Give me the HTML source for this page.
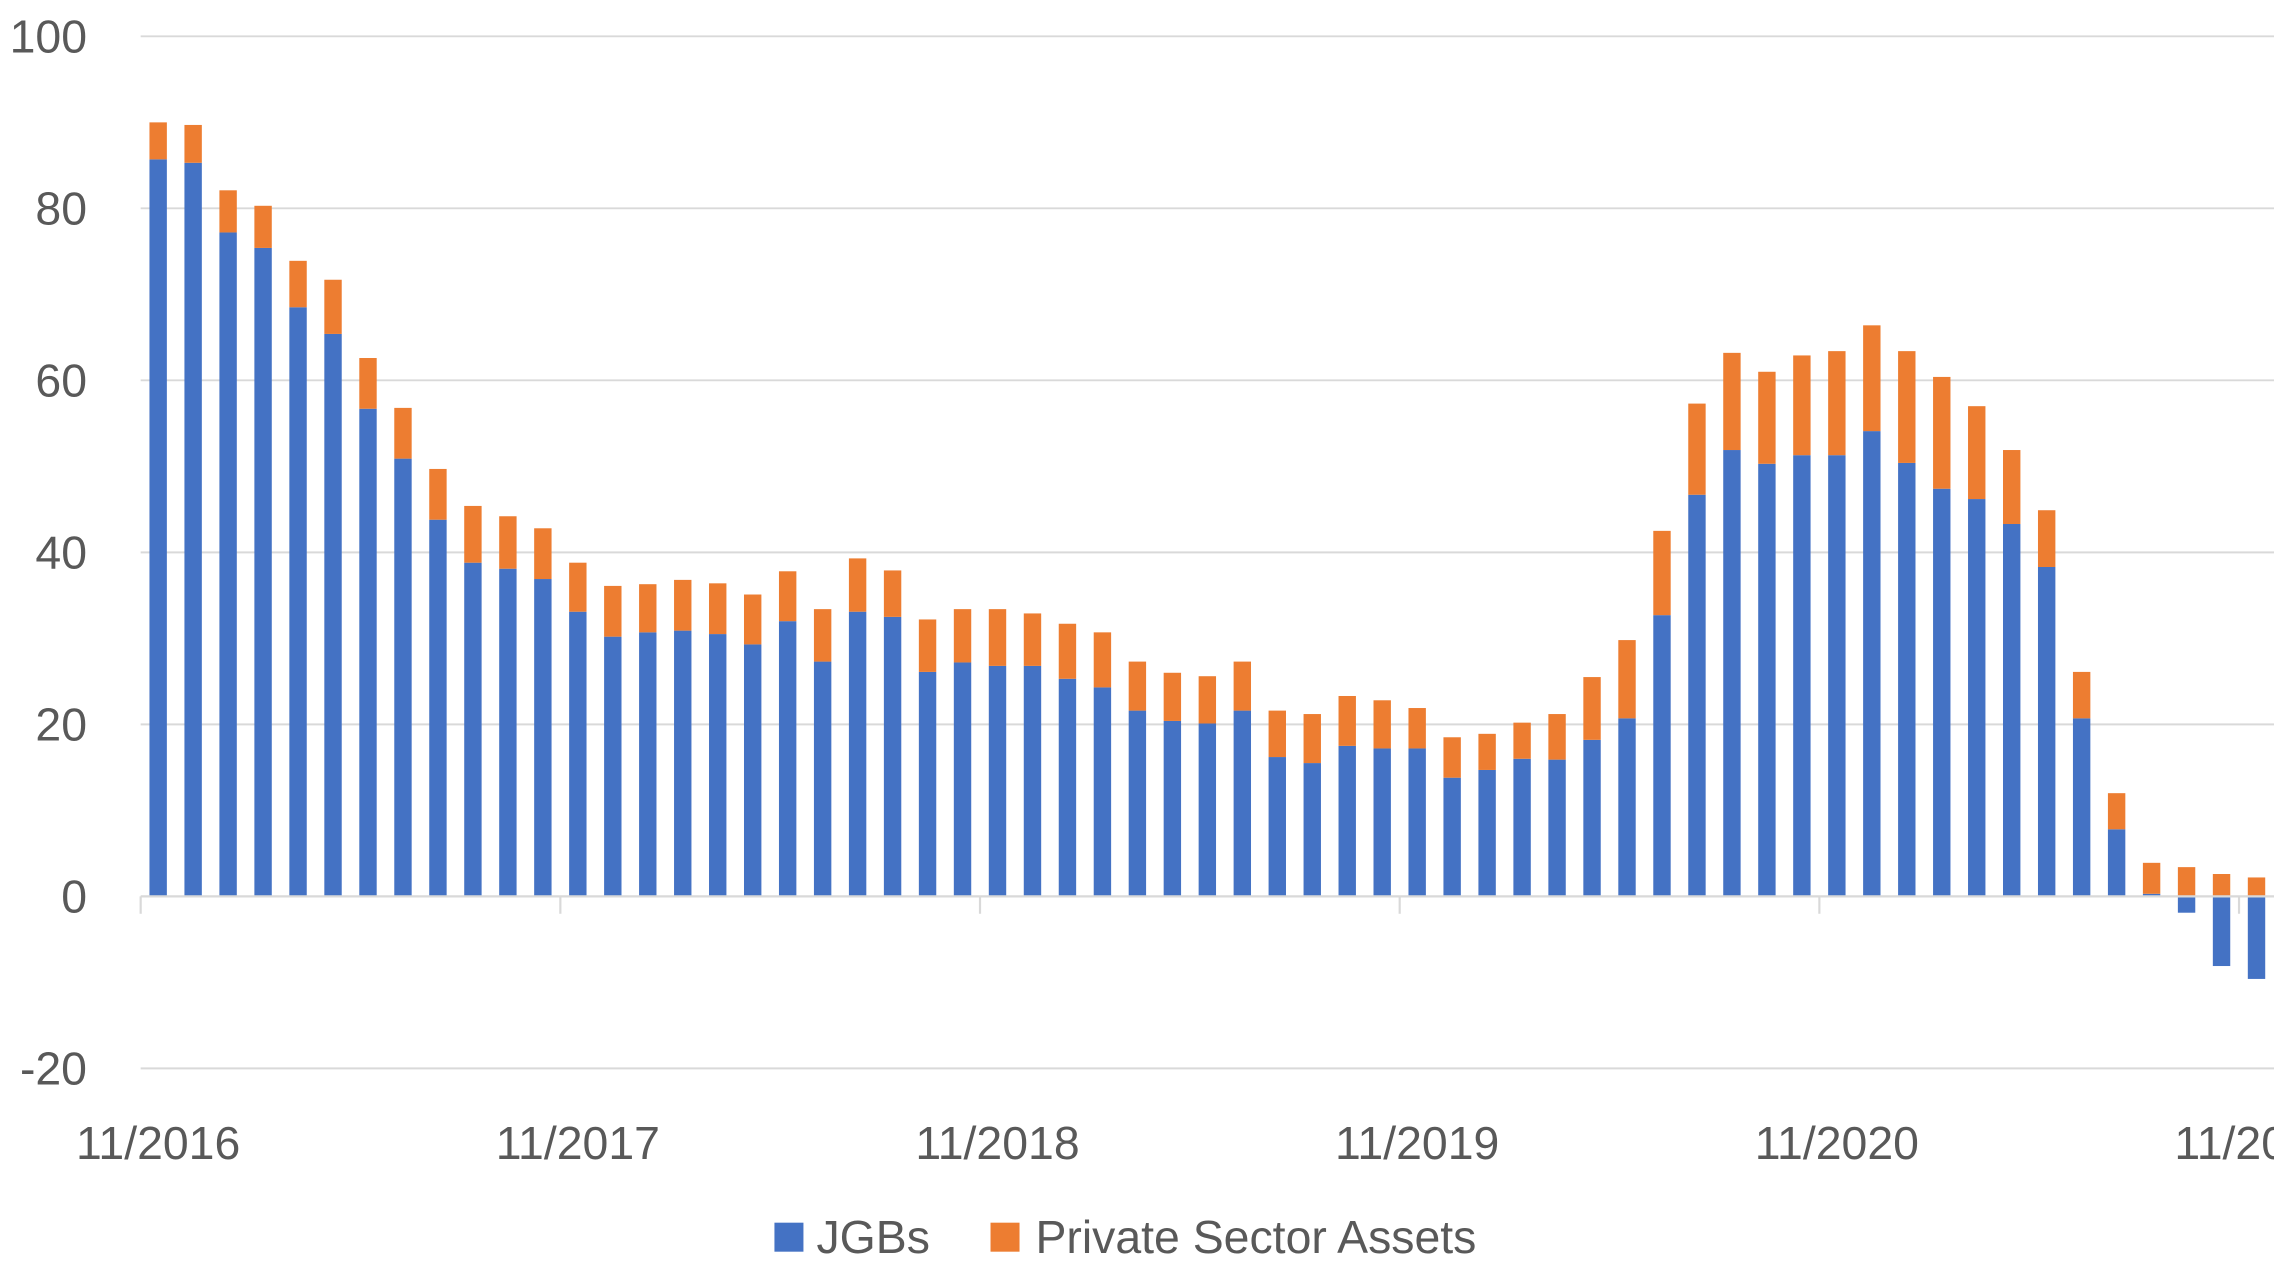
<!DOCTYPE html>
<html><head><meta charset="utf-8"><style>
html,body{margin:0;padding:0;background:#fff;}
svg{display:block;font-family:"Liberation Sans",sans-serif;}
</style></head><body>
<svg id="chart" width="2274" height="1275" viewBox="0 0 1568 879" xmlns="http://www.w3.org/2000/svg">
<g id="grid"></g>
<g id="yticks"></g>
<g id="bars"></g>
<g id="xaxis"></g>
<g>
  <rect x="534" y="843" width="20" height="20" fill="#4472C4"/>
  <text x="563" y="864" font-size="32" fill="#595959">JGBs</text>
  <rect x="683" y="843" width="20" height="20" fill="#ED7D31"/>
  <text x="714" y="864" font-size="32" fill="#595959">Private Sector Assets</text>
</g>
</svg>
<script>
const jgbs=[85.7,85.3,77.2,75.4,68.5,65.4,56.7,50.9,43.8,38.8,38.1,36.9,33.1,30.2,30.7,30.9,30.5,29.3,32.0,27.3,33.1,32.5,26.1,27.2,26.8,26.8,25.3,24.3,21.6,20.4,20.1,21.6,16.2,15.5,17.5,17.2,17.2,13.8,14.7,16.0,15.9,18.2,20.7,32.7,46.7,51.9,50.3,51.3,51.3,54.1,50.4,47.4,46.2,43.3,38.3,20.7,7.8,0.3,-1.9,-8.1,-9.6];
const totals=[90.0,89.7,82.1,80.3,73.9,71.7,62.6,56.8,49.7,45.4,44.2,42.8,38.8,36.1,36.3,36.8,36.4,35.1,37.8,33.4,39.3,37.9,32.2,33.4,33.4,32.9,31.7,30.7,27.3,26.0,25.6,27.3,21.6,21.2,23.3,22.8,21.9,18.5,18.9,20.2,21.2,25.5,29.8,42.5,57.3,63.2,61.0,62.9,63.4,66.4,63.4,60.4,57.0,51.9,44.9,26.1,12.0,3.9,3.4,2.6,2.2];
const yTicks=[100,80,60,40,20,0,-20];
const xLabels=["11/2016","11/2017","11/2018","11/2019","11/2020","11/2021"];
const NS="http://www.w3.org/2000/svg";
const X0=97,X1=1568,Y0=618,PPU=5.93;
const band=(X1-X0)/jgbs.length;
const y=v=>Y0-v*PPU;
const xc=i=>X0+band*(i+0.5);
function mk(t,a,p){const e=document.createElementNS(NS,t);for(const k in a)e.setAttribute(k,a[k]);p.appendChild(e);return e;}
const grid=document.getElementById('grid'),yt=document.getElementById('yticks'),bars=document.getElementById('bars'),xa=document.getElementById('xaxis');
yTicks.forEach(v=>{
  if(v!==0){const l=mk('line',{x1:X0,x2:X1,y1:y(v),y2:y(v),stroke:'#d9d9d9','stroke-width':1.3},grid);
  
  }
  const t=mk('text',{x:60,y:y(v)+11,'text-anchor':'end','font-size':32,fill:'#595959'},yt);
  
  
  t.textContent=v;
});
const bw=12;
jgbs.forEach((j,i)=>{
  const priv=j>=0?totals[i]-j:totals[i];
  const base=j>=0?j:0;
  const b=mk('rect',{x:xc(i)-bw/2,y:Math.min(y(j),y(0)),width:bw,height:Math.abs(y(j)-y(0)),fill:'#4472C4'},bars);
  
  
  const o=mk('rect',{x:xc(i)-bw/2,y:y(base+priv),width:bw,height:priv*PPU,fill:'#ED7D31'},bars);
  
  
});
const ax=mk('line',{x1:X0,x2:X1,y1:Y0,y2:Y0,stroke:'#d9d9d9','stroke-width':1.5},xa);


xLabels.forEach((s,k)=>{
  const i=k*12;
  const tx=X0+band*i;
  const tk=mk('line',{x1:tx,x2:tx,y1:Y0,y2:Y0+12,stroke:'#d9d9d9','stroke-width':1.5},xa);
  
  
  const t=mk('text',{x:xc(i),y:799,'text-anchor':'middle','font-size':32,fill:'#595959'},xa);
  
  
  t.textContent=s;
});
</script>
</body></html>
